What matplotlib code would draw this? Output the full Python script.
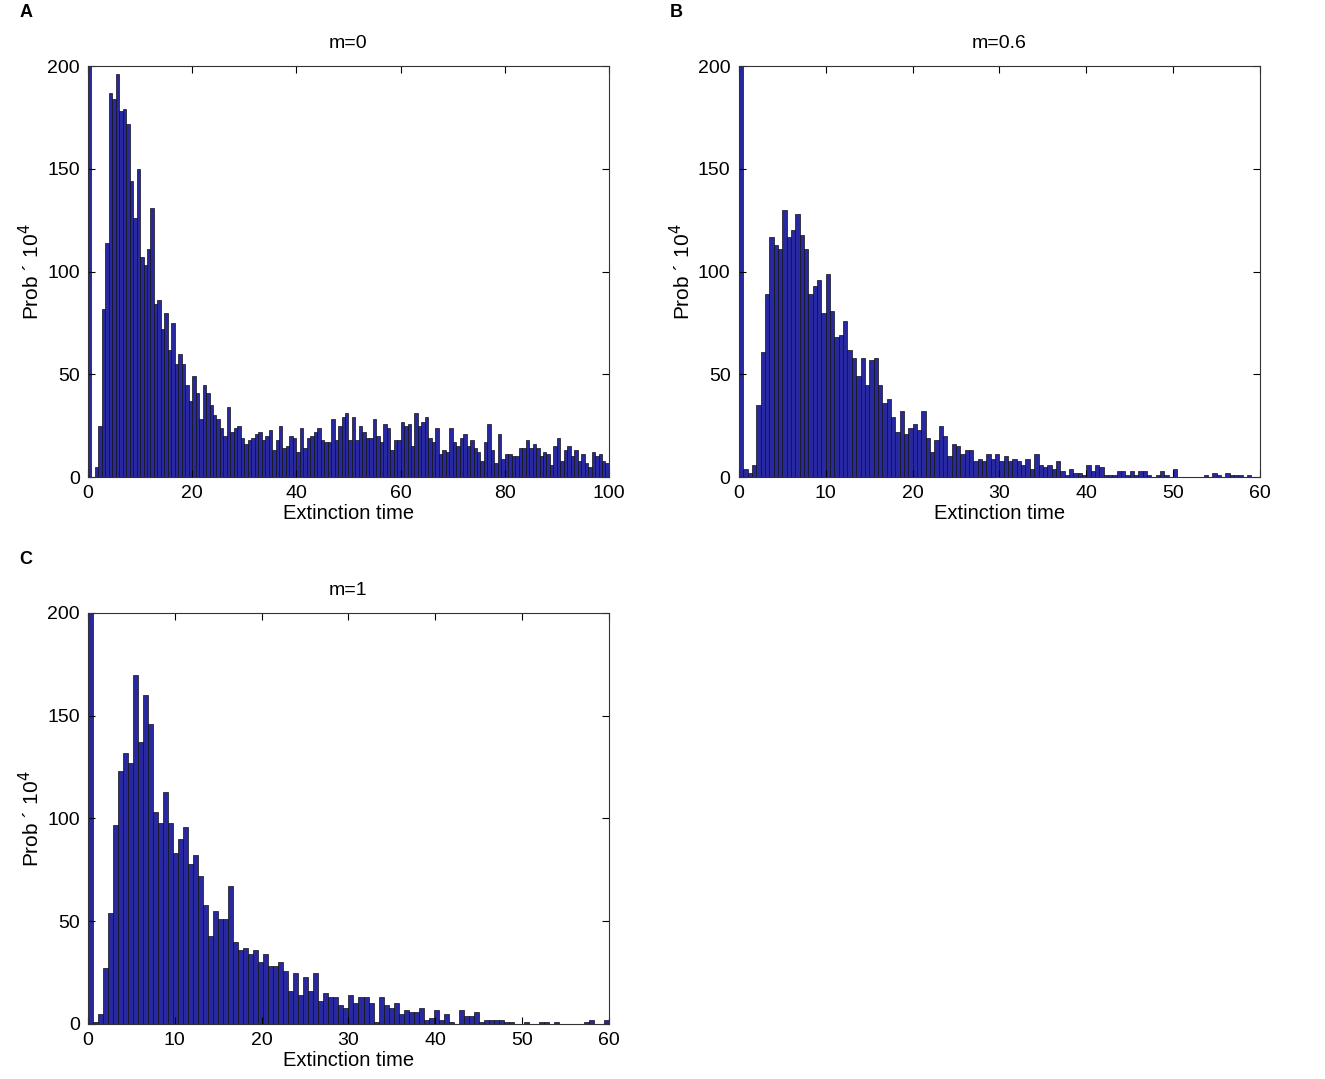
import matplotlib
matplotlib.use("Agg")
import matplotlib.pyplot as plt
import numpy as np

plt.rcParams['font.family'] = ['Liberation Sans', 'DejaVu Sans']

# bar heights (Prob x 10^4); first bin runs off the top
prob_m0 = [260, 0, 5, 25, 82, 114, 187, 184, 196, 178, 179, 172, 144, 126, 150, 107,
           103, 111, 131, 84, 86, 72, 80, 62, 75, 55, 60, 55, 45, 37, 49, 41, 28, 45,
           41, 35, 30, 28, 24, 20, 34, 22, 24, 25, 19, 16, 18,
           19, 21, 22, 18, 20, 23, 13, 18, 25, 14, 15, 20, 19, 12, 24, 14, 19, 20, 22,
           24, 18, 17, 17, 28, 18, 25, 29, 31, 18, 29, 18, 25, 22, 19, 19, 28, 20, 17,
           26, 24, 13, 18, 18, 27, 25, 26, 15, 31, 25, 27,
           29, 19, 17, 24, 11, 13, 12, 24, 17, 15, 19, 21, 15, 18, 14, 12, 8, 17, 26,
           13, 7, 21, 9, 11, 11, 10, 10, 14, 14, 18, 14, 16, 14, 10, 12, 11, 6, 15, 19,
           8, 13, 15, 10, 13, 8, 11, 7, 5, 12, 10, 11, 8, 7]
prob_m06 = [260, 4, 2, 6, 35, 61, 89, 117, 113, 111, 130, 117, 120, 128, 118, 111, 89,
            93, 96, 80, 99, 81, 68, 69, 76, 62, 58, 49, 58, 45, 57, 58, 45, 36, 38, 29, 22,
            32, 21, 24, 26, 23, 32, 19, 12, 18, 25, 20, 10, 16, 15, 11, 13, 13, 8, 9, 8,
            11, 9, 11, 8, 10, 8, 9, 8, 6, 9, 4, 11, 6, 5, 6, 4, 8, 3, 1, 4, 2, 2,
            1, 6, 3, 6, 5, 1, 1, 1, 3, 3, 1, 3, 1, 3, 3, 1, 0, 1, 3, 1, 0, 4, 0, 0, 0, 0,
            0, 0, 1, 0, 2, 1, 0, 2, 1, 1, 1, 0, 1, 0, 0]
prob_m1 = [260, 1, 5, 27, 54, 97, 123, 132, 127, 170, 137, 160, 146, 103, 98, 113, 98,
           83, 90, 96, 78, 82, 72, 58, 43, 55, 51, 51, 67, 40, 36, 37, 34,
           36, 30, 34, 28, 28, 30, 26, 16, 25, 14, 23, 16, 25, 11, 15, 13, 13, 9, 8, 14,
           10, 13, 13, 10, 1, 13, 9, 8, 10, 5, 7, 6, 6, 8, 2, 3,
           7, 2, 5, 1, 0, 7, 4, 4, 6, 1, 2, 2, 2, 2, 1, 1, 0, 0, 1, 0, 0, 1, 1, 0, 1, 0,
           0, 0, 0, 0, 1, 2, 0, 0, 2]

panels = [
    ("A", "m=0", prob_m0, 100, np.arange(0, 101, 20), [0.0664, 0.5579]),
    ("B", "m=0.6", prob_m06, 60, np.arange(0, 61, 10), [0.5577, 0.5579]),
    ("C", "m=1", prob_m1, 60, np.arange(0, 61, 10), [0.0664, 0.0510]),
]

fig = plt.figure(figsize=(13.25, 10.79), dpi=100)

for letter, title, vals, tmax, xt, (left, bottom) in panels:
    ax = fig.add_axes([left, bottom, 0.3932, 0.3809])
    w = tmax / len(vals)
    edges = np.arange(len(vals)) * w
    ax.bar(edges, vals, width=w, align='edge', color='#2828a0',
           edgecolor='#111111', linewidth=0.5)
    ax.set_xlim(0, tmax)
    ax.set_ylim(0, 200)
    ax.set_xticks(xt)
    ax.set_yticks(np.arange(0, 201, 50))
    ax.tick_params(direction='in', top=True, right=True, length=5,
                   labelsize=14, width=0.8, pad=6)
    for s in ax.spines.values():
        s.set_linewidth(0.8)
        s.set_color('#333333')
    ax.set_title(title, fontsize=14, pad=13)
    ax.set_xlabel("Extinction time", fontsize=14.5, labelpad=1)
    ax.set_ylabel("Prob ´ 10$^{4}$", fontsize=15, labelpad=3)
    fig.text(left - 0.052, bottom + 0.3809 + 0.050, letter, fontsize=13,
             fontweight='bold', ha='left', va='center')

fig.savefig("out.png", dpi=100)
